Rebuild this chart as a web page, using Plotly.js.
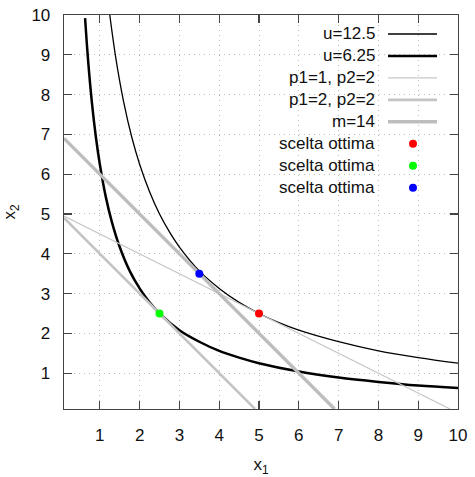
<!DOCTYPE html>
<html><head><meta charset="utf-8">
<script src="https://cdn.plot.ly/plotly-3.0.1.min.js"></script>
<style>html,body{margin:0;padding:0;background:#fff;} #chart{width:475px;height:477px;}</style>
</head><body><div id="chart"></div>
<script>
// Indifference curve u = 12.5
const u125X = [1.25, 1.4, 1.6, 1.8, 2, 2.25, 2.5, 2.75, 3, 3.5, 4, 4.5, 5, 5.5, 6, 7, 8, 9, 10];
const u125Y = [10, 8.93, 7.81, 6.94, 6.25, 5.56, 5, 4.55, 4.17, 3.57, 3.13, 2.78, 2.5, 2.27, 2.08, 1.79, 1.56, 1.39, 1.25];
// Indifference curve u = 6.25
const u625X = [0.63, 0.7, 0.8, 0.9, 1, 1.15, 1.3, 1.5, 1.75, 2, 2.25, 2.5, 3, 3.5, 4, 4.5, 5, 6, 7, 8, 9, 10];
const u625Y = [9.92, 8.93, 7.81, 6.94, 6.25, 5.43, 4.81, 4.17, 3.57, 3.13, 2.78, 2.5, 2.08, 1.79, 1.56, 1.39, 1.25, 1.04, 0.89, 0.78, 0.69, 0.63];
// Budget lines
const b12X = [0.1, 9.8];
const b12Y = [4.95, 0.1];
const b22X = [0.1, 4.9];
const b22Y = [4.9, 0.1];
const m14X = [0.1, 6.9];
const m14Y = [6.9, 0.1];
// Optimal choices
const redPt = [[5], [2.5]];
const greenPt = [[2.5], [2.5]];
const bluePt = [[3.5], [3.5]];
// Labels
const seriesNames = ['u=12.5', 'u=6.25', 'p1=1, p2=2', 'p1=2, p2=2', 'm=14', 'scelta ottima', 'scelta ottima', 'scelta ottima'];
const tickVals = [1, 2, 3, 4, 5, 6, 7, 8, 9, 10];
const tickText = ['1', '2', '3', '4', '5', '6', '7', '8', '9', '10'];

const FONT = '"Liberation Sans", Arial, sans-serif';
const styles = [
  {kind: 'line', color: '#000000', width: 1.3},
  {kind: 'line', color: '#000000', width: 2.5},
  {kind: 'line', color: '#c8c8c8', width: 1.2},
  {kind: 'line', color: '#c4c4c4', width: 2.6},
  {kind: 'line', color: '#bdbdbd', width: 3.4},
  {kind: 'marker', color: '#ff0000'},
  {kind: 'marker', color: '#00ff00'},
  {kind: 'marker', color: '#0000ff'}
];
const dataXY = [[u125X, u125Y], [u625X, u625Y], [b12X, b12Y], [b22X, b22Y], [m14X, m14Y], redPt, greenPt, bluePt];

const traces = dataXY.map((d, i) => {
  const s = styles[i];
  if (s.kind === 'line') {
    return {x: d[0], y: d[1], type: 'scatter', mode: 'lines', name: seriesNames[i],
      line: {color: s.color, width: s.width, shape: i < 2 ? 'spline' : 'linear', smoothing: 1},
      showlegend: false, hoverinfo: 'skip', cliponaxis: true};
  }
  return {x: d[0], y: d[1], type: 'scatter', mode: 'markers', name: seriesNames[i],
    marker: {color: s.color, size: 8, line: {width: 0}}, showlegend: false, hoverinfo: 'skip'};
});

// custom gnuplot-style legend (text right, sample at right)
const L = 64, T = 15, W = 394, H = 394;
const px2x = p => (p - L) / W;
const px2y = p => (T + H - p) / H;
const shapes = [];
const annotations = [];
const rowTop = 34, rowStep = 21.95;
seriesNames.forEach((nm, i) => {
  const yPx = rowTop + i * rowStep;
  annotations.push({xref: 'paper', yref: 'paper', x: px2x(377), y: px2y(yPx), xanchor: 'right', yanchor: 'middle',
    text: nm, showarrow: false, font: {family: FONT, size: 17, color: '#111'}});
  const s = styles[i];
  if (s.kind === 'line') {
    shapes.push({type: 'line', xref: 'paper', yref: 'paper', x0: px2x(388), x1: px2x(437), y0: px2y(yPx), y1: px2y(yPx),
      line: {color: s.color, width: s.width}});
  } else {
    const r = 4;
    shapes.push({type: 'circle', xref: 'paper', yref: 'paper', x0: px2x(413 - r), x1: px2x(413 + r), y0: px2y(yPx + r), y1: px2y(yPx - r),
      fillcolor: s.color, line: {width: 0}});
  }
});

const axisCommon = {
  range: [0.1, 10], tickmode: 'array', tickvals: tickVals, ticktext: tickText,
  ticks: 'inside', ticklen: 8, tickwidth: 1.3, tickcolor: '#444',
  showline: true, linecolor: '#444', linewidth: 1.3, mirror: 'allticks',
  showgrid: true, gridcolor: '#bbbbbb', gridwidth: 1, griddash: '1px,4px',
  zeroline: false, tickfont: {family: FONT, size: 17, color: '#111'}, fixedrange: true
};

const layout = {
  width: 475, height: 477,
  margin: {l: L, r: 475 - L - W, t: T, b: 477 - T - H},
  paper_bgcolor: '#fff', plot_bgcolor: '#fff',
  showlegend: false,
  xaxis: Object.assign({}, axisCommon, {ticklabelstandoff: 10,
    title: {text: 'x<sub>1</sub>', font: {family: FONT, size: 17, color: '#111'}, standoff: 14}}),
  yaxis: Object.assign({}, axisCommon, {ticklabelstandoff: 9,
    title: {text: 'x<sub>2</sub>', font: {family: FONT, size: 17, color: '#111'}, standoff: 14}}),
  shapes: shapes, annotations: annotations
};

Plotly.newPlot('chart', traces, layout, {staticPlot: true, displayModeBar: false});
</script></body></html>
